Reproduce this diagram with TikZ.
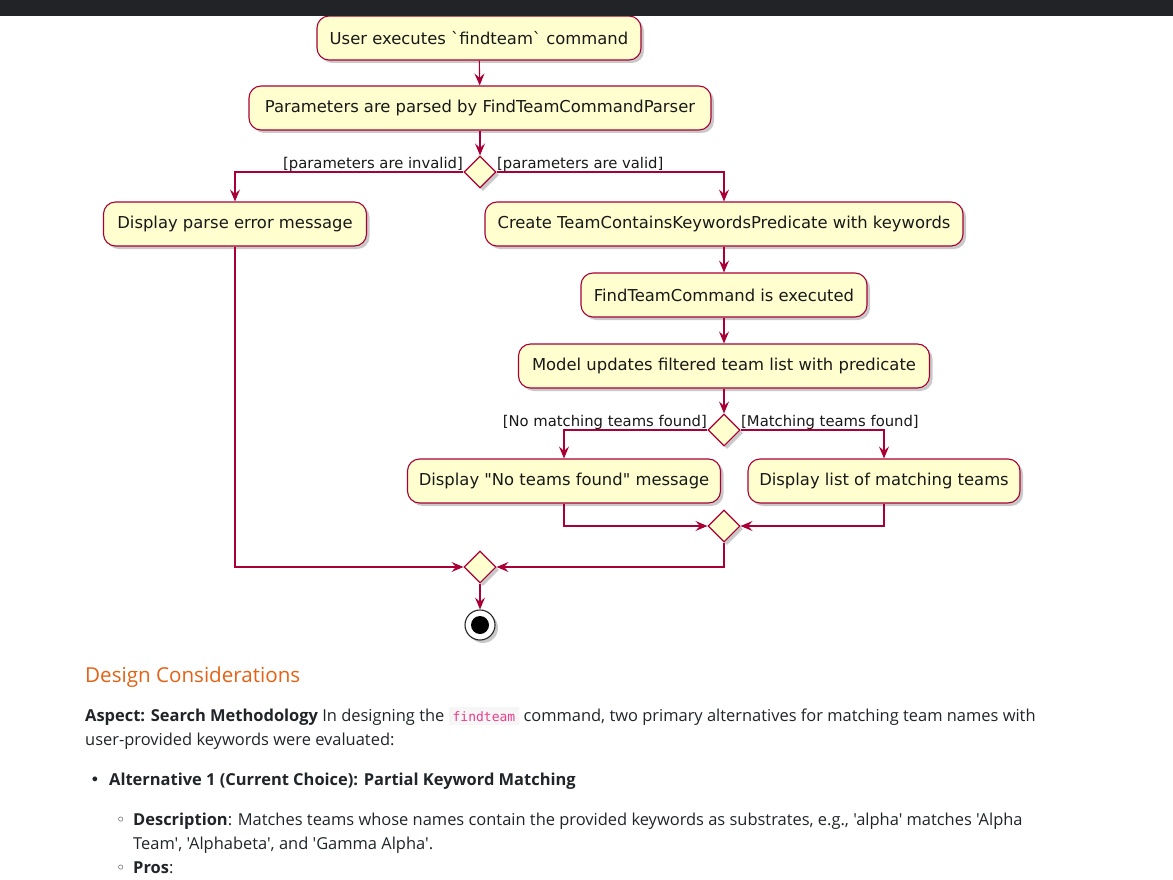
\documentclass[tikz,border=0pt]{standalone}
\usepackage{fontspec}
\setmainfont{Open Sans}[Ligatures=TeXOff]
\newfontfamily\umlfont{DejaVu Sans}
\newfontfamily\codefont{DejaVu Sans Mono}
\newfontfamily\bulletfont{DejaVu Sans}
\usetikzlibrary{arrows.meta,shapes.geometric,shadows}
\definecolor{umlred}{HTML}{A80036}
\definecolor{umlfill}{HTML}{FEFECE}
\definecolor{topbar}{HTML}{212327}
\definecolor{headorange}{RGB}{228,98,22}
\definecolor{bodytext}{HTML}{212529}
\definecolor{codepink}{HTML}{E83E8C}
\definecolor{codebg}{HTML}{F6F6F6}
\tikzset{
  shad/.style={drop shadow={shadow xshift=3pt,shadow yshift=-3pt,opacity=0.35,fill=black!60}},
  act/.style={draw=umlred, fill=umlfill, rounded corners=12pt, line width=1.1pt,
    minimum height=44, inner xsep=0pt, font=\umlfont\fontsize{16.4}{18}\selectfont, text=black!90, shad},
  dec/.style={diamond, draw=umlred, fill=umlfill, line width=1.1pt, minimum width=32,
    minimum height=32, inner sep=0pt, shad},
  flow/.style={draw=umlred, line width=1.1pt, -{Stealth[length=12pt,width=10pt,inset=4.5pt]}},
  lbl/.style={font=\umlfont\fontsize{14.8}{16}\selectfont, text=black!90, inner sep=0pt},
  body/.style={font=\fontsize{16.45}{19}\selectfont, text=bodytext, inner sep=0pt, anchor=base west},
}
\begin{document}
\begin{tikzpicture}[x=1pt,y=-1pt]
\useasboundingbox (0,0) rectangle (1173,880);
\fill[white] (0,0) rectangle (1173,880);

% activity nodes
\node[act, minimum width=324] (n1) at (479,38) {User executes `findteam` command};
\node[act, minimum width=462] (n2) at (480,108) {Parameters are parsed by FindTeamCommandParser};
\node[dec] (d1) at (480,172) {};
\node[act, minimum width=263] (n3) at (235,224) {Display parse error message};
\node[act, minimum width=478] (n4) at (724,224) {Create TeamContainsKeywordsPredicate with keywords};
\node[act, minimum width=286] (n5) at (724,295) {FindTeamCommand is executed};
\node[act, minimum width=411] (n6) at (724,366) {Model updates filtered team list with predicate};
\node[dec] (d2) at (724,430) {};
\node[act, minimum width=313] (n7) at (564,481) {Display "No teams found" message};
\node[act, minimum width=272] (n8) at (884,481) {Display list of matching teams};
\node[dec] (d3) at (724,526) {};
\node[dec] (d4) at (480,567) {};
\node[circle, draw=black!85, fill=white, line width=1.1pt, minimum size=30, inner sep=0pt, shad] (end) at (480,625) {};
\fill[black] (end.center) circle (9);

% connectors
\draw[flow] (n1) -- (n2);
\draw[flow] (n2) -- (d1);
\draw[flow] (d1.west) -| (n3);
\draw[flow] (d1.east) -| (n4);
\draw[flow] (n4) -- (n5);
\draw[flow] (n5) -- (n6);
\draw[flow] (n6) -- (d2);
\draw[flow] (d2.west) -| (n7);
\draw[flow] (d2.east) -| (n8);
\draw[flow] (n7) |- (d3.west);
\draw[flow] (n8) |- (d3.east);
\draw[flow] (d3) |- (d4.east);
\draw[flow] (n3) |- (d4.west);
\draw[flow] (d4) -- (end);

% guard labels
\node[lbl, anchor=base east] (l1) at (463,168) {[parameters are invalid]};
\node[lbl, anchor=base west] (l2) at (497,168) {[parameters are valid]};
\node[lbl, anchor=base east] (l3) at (707,426) {[No matching teams found]};
\node[lbl, anchor=base west] (l4) at (741,426) {[Matching teams found]};

% top bar
\fill[topbar] (0,0) rectangle (1173,16);

% text below
\node[font=\fontsize{20.6}{24}\selectfont, text=headorange, inner sep=0pt, anchor=base west] (h) at (85,682) {Design Considerations};
\node[body] (p1) at (85,721) {\textbf{Aspect: Search Methodology} In designing the {\setlength{\fboxsep}{4pt}\colorbox{codebg}{\codefont\fontsize{13}{15}\selectfont\color{codepink}findteam}} command, two primary alternatives for matching team names with};
\node[body] (p2) at (85,745) {user-provided keywords were evaluated:};
\node[body] (b1) at (90,785) {\bulletfont•};
\node[body] (p3) at (109,785) {\textbf{Alternative 1 (Current Choice): Partial Keyword Matching}};
\node[body] (b2) at (116,825) {\bulletfont\fontsize{16}{18}\selectfont◦};
\node[body] (p4) at (133,825) {\textbf{Description}: Matches teams whose names contain the provided keywords as substrates, e.g., 'alpha' matches 'Alpha};
\node[body] (p5) at (133,849) {Team', 'Alphabeta', and 'Gamma Alpha'.};
\node[body] (b3) at (116,873) {\bulletfont\fontsize{16}{18}\selectfont◦};
\node[body] (p6) at (133,873) {\textbf{Pros}:};
\end{tikzpicture}
\end{document}
